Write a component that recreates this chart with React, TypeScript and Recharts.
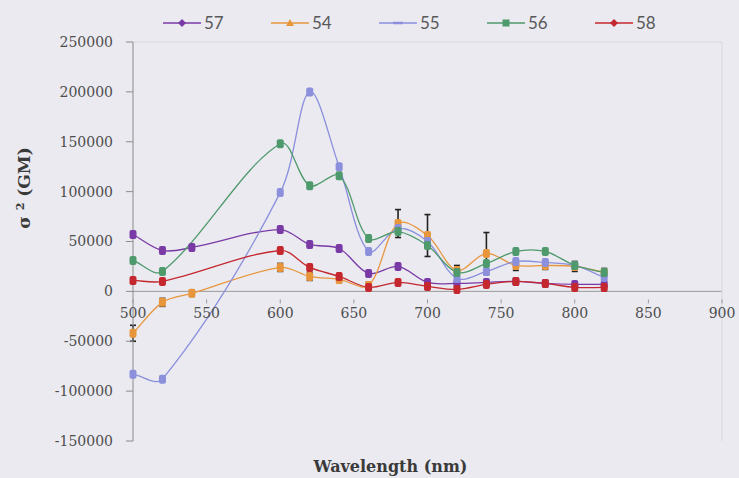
import {
  LineChart,
  Line,
  XAxis,
  YAxis,
  Legend,
  ReferenceLine,
  ErrorBar,
} from 'recharts';

// wavelengths (nm) and sigma2 (GM)
const wavelengths = [500, 520, 540, 600, 620, 640, 660, 680, 700, 720, 740, 760, 780, 800, 820];
const s57 = [57000, 41000, 44000, 62000, 47000, 43000, 18000, 25000, 9000, 8000, 9000, 10000, 8000, 7000, 7000];
const s54 = [-42000, -11000, -2000, 24000, 15000, 12000, 6000, 68000, 56000, 21000, 38000, 26000, 26000, 25000, 19000];
const s55 = [-83000, -88000, null, 99000, 200000, 125000, 40000, 63000, 50000, 13000, 20000, 30000, 29000, 26000, 14000];
const s56 = [31000, 20000, null, 148000, 106000, 116000, 53000, 60000, 46000, 19000, 28000, 40000, 40000, 26000, 19000];
const s58 = [11000, 10000, null, 41000, 24000, 15000, 4000, 9000, 5000, 2000, 7000, 10000, 8000, 4000, 4000];
const err54 = [8000, 4000, 3000, 4000, 4000, 3000, 3000, 14000, 21000, 5000, 21000, 5000, 4000, 5000, 4000];

const yTicks = [-150000, -100000, -50000, 0, 50000, 100000, 150000, 200000, 250000];
const xTicks = [500, 550, 600, 650, 700, 750, 800, 850, 900];

const series = [
  { key: 's57', name: '57', color: '#7a3aa6', shape: 'diamond' },
  { key: 's54', name: '54', color: '#e8963c', shape: 'triangle' },
  { key: 's55', name: '55', color: '#8b8fdc', shape: 'dash' },
  { key: 's56', name: '56', color: '#4f9a6c', shape: 'square' },
  { key: 's58', name: '58', color: '#c4272e', shape: 'diamond' },
];

const data = wavelengths.map((w, i) => ({
  w,
  s57: s57[i],
  s54: s54[i],
  s55: s55[i],
  s56: s56[i],
  s58: s58[i],
  e54: err54[i],
}));

const W = 739;
const H = 478;
const TOP = 42;
const BOTTOM_AXIS = 37;
const PLOT_H = H - TOP - BOTTOM_AXIS;
const Y_MIN = -150000;
const Y_MAX = 250000;
// distance from bottom of plot up to the zero line, where Excel draws the x axis
const ZERO_UP = (PLOT_H * (0 - Y_MIN)) / (Y_MAX - Y_MIN);

const serif = '"DejaVu Serif", serif';

// Excel-ish smoothed line: cardinal spline, tangents weighted by segment length
const excelCurve = (context: any) => {
  let pts: [number, number][] = [];
  const dist = (a: [number, number], b: [number, number]) => Math.hypot(b[0] - a[0], b[1] - a[1]) || 1e-6;
  return {
    areaStart() {},
    areaEnd() {},
    lineStart() {
      pts = [];
    },
    lineEnd() {
      if (!pts.length) return;
      context.moveTo(pts[0][0], pts[0][1]);
      for (let i = 0; i < pts.length - 1; i++) {
        const p0 = pts[i - 1] || pts[i];
        const p1 = pts[i];
        const p2 = pts[i + 1];
        const p3 = pts[i + 2] || p2;
        const d01 = i > 0 ? dist(p0, p1) : 0;
        const d12 = dist(p1, p2);
        const d23 = pts[i + 2] ? dist(p2, p3) : 0;
        const k1 = d12 / (d01 + d12) / 3;
        const k2 = d12 / (d12 + d23) / 3;
        context.bezierCurveTo(
          p1[0] + (p2[0] - p0[0]) * k1,
          p1[1] + (p2[1] - p0[1]) * k1,
          p2[0] - (p3[0] - p1[0]) * k2,
          p2[1] - (p3[1] - p1[1]) * k2,
          p2[0],
          p2[1]
        );
      }
    },
    point(x: number, y: number) {
      pts.push([+x, +y]);
    },
  };
};

const makeDot = (color: string) => (props: any) => {
  const { cx, cy, index } = props;
  if (cx == null || cy == null) return <g key={index} />;
  return <rect key={index} x={cx - 3.5} y={cy - 4.5} width={7} height={9} rx={2} fill={color} />;
};

const XTick = (props: any) => {
  const { x, y, payload } = props;
  const zy = y - ZERO_UP;
  return (
    <g>
      <line x1={x} x2={x} y1={zy} y2={zy + 4} stroke="#9a9a9a" />
      <text x={x} y={zy + 19} textAnchor="middle" fill="#4d4d4d" fontSize={14} fontFamily={serif}>
        {payload.value}
      </text>
    </g>
  );
};

const LegendMarker = ({ shape, color }: { shape: string; color: string }) => (
  <svg width={38} height={12} style={{ display: 'block' }}>
    <line x1={0} x2={38} y1={6} y2={6} stroke={color} strokeWidth={1.5} />
    {shape === 'diamond' && <polygon points="19,2 23,6 19,10 15,6" fill={color} />}
    {shape === 'triangle' && <polygon points="19,2 23,9 15,9" fill={color} />}
    {shape === 'square' && <rect x={15.5} y={2.5} width={7} height={7} fill={color} />}
    {shape === 'dash' && <line x1={14} x2={24} y1={6} y2={6} stroke={color} strokeWidth={2.5} />}
  </svg>
);

const renderLegend = () => (
  <div style={{ display: 'flex', paddingLeft: 163 }}>
    {series.map((s) => (
      <div key={s.key} style={{ display: 'flex', alignItems: 'center', width: 108 }}>
        <LegendMarker shape={s.shape} color={s.color} />
        <span style={{ marginLeft: 3, fontFamily: 'Lato, sans-serif', fontSize: 17, color: '#595959' }}>{s.name}</span>
      </div>
    ))}
  </div>
);

export default function App() {
  return (
    <div style={{ width: W, height: H, background: '#eaeaf0' }}>
      <style>{'body{margin:0}'}</style>
      <LineChart width={W} height={H} data={data} margin={{ top: TOP, right: 17, bottom: 0, left: 0 }}>
        <XAxis
          dataKey="w"
          type="number"
          domain={[500, 900]}
          ticks={xTicks}
          height={BOTTOM_AXIS}
          axisLine={false}
          tickLine={false}
          tick={<XTick />}
          label={{
            content: ({ viewBox }: any) => (
              <text
                x={viewBox.x + viewBox.width / 2 - 37}
                y={viewBox.y + 31}
                textAnchor="middle"
                fill="#3a3a3a"
                fontSize={16}
                fontWeight="bold"
                fontFamily={serif}
              >
                Wavelength (nm)
              </text>
            ),
          }}
        />
        <YAxis
          type="number"
          domain={[Y_MIN, Y_MAX]}
          ticks={yTicks}
          width={133}
          stroke="#8c8c8c"
          tickSize={7}
          tickMargin={13}
          tick={{ fill: '#4d4d4d', fontSize: 14, fontFamily: serif }}
          label={{
            content: () => (
              <text
                x={30}
                y={188}
                transform="rotate(-90, 30, 188)"
                textAnchor="middle"
                fill="#3a3a3a"
                fontSize={17}
                fontWeight="bold"
                fontFamily={serif}
              >
                σ <tspan dy={-6} fontSize={11}>2</tspan>
                <tspan dy={6}> (GM)</tspan>
              </text>
            ),
          }}
        />
        <ReferenceLine y={0} stroke="#9a9a9a" />
        <ReferenceLine y={Y_MAX} stroke="#d6d6dc" />
        <ReferenceLine x={900} stroke="#d6d6dc" />
        <Legend verticalAlign="middle" layout="horizontal" content={renderLegend} wrapperStyle={{ top: 12, left: 0, width: W }} />
        {series.map((s) => (
          <Line
            key={s.key}
            dataKey={s.key}
            name={s.name}
            type={excelCurve as any}
            stroke={s.color}
            strokeWidth={1.3}
            dot={makeDot(s.color)}
            activeDot={false}
            connectNulls
            isAnimationActive={false}
          >
            {s.key === 's54' && <ErrorBar dataKey="e54" direction="y" stroke="#222" strokeWidth={1.6} width={3} />}
          </Line>
        ))}
      </LineChart>
    </div>
  );
}
